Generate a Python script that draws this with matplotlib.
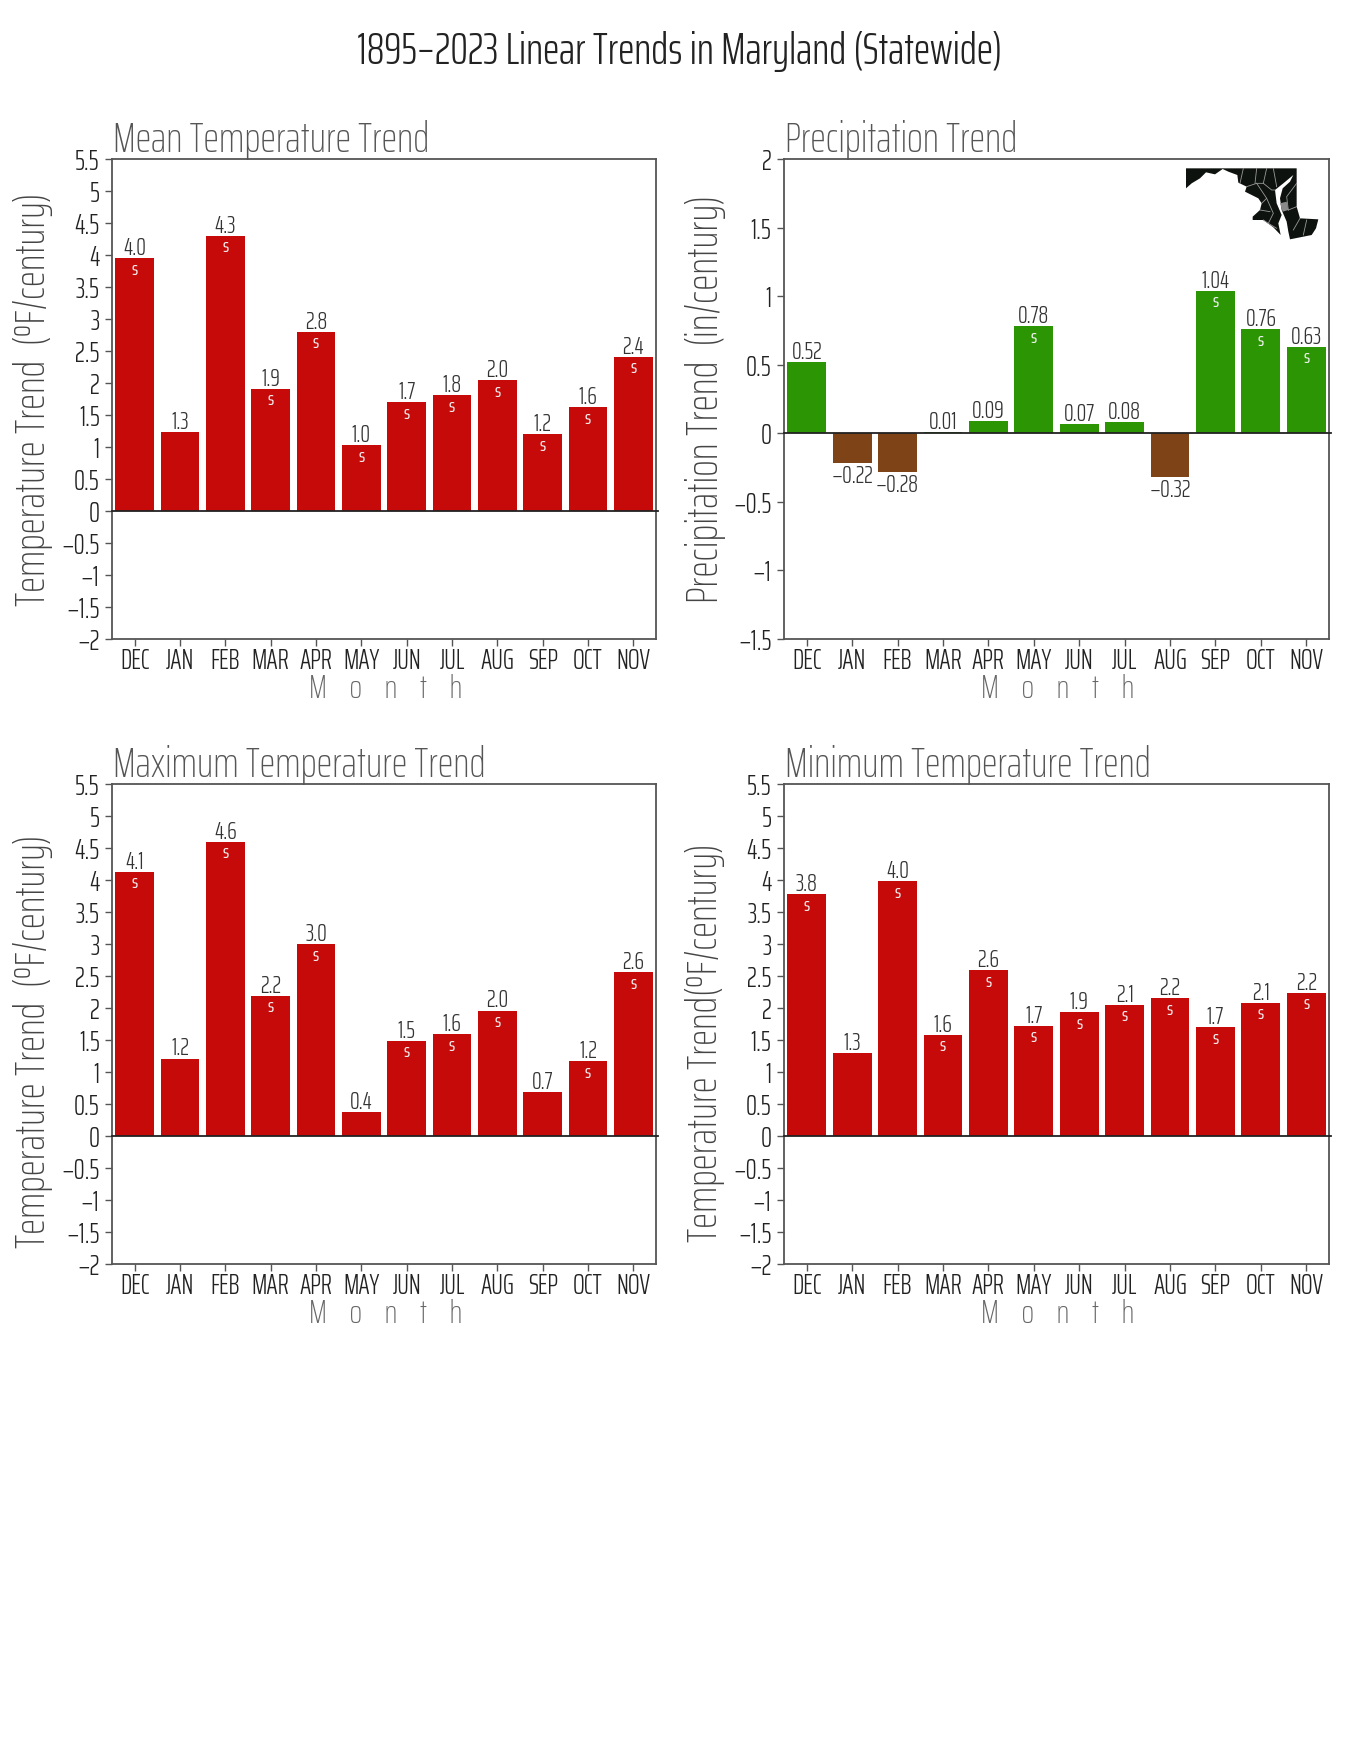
import matplotlib
matplotlib.use("Agg")
import matplotlib.pyplot as plt
from matplotlib.patches import Polygon

FONT = ['Saira ExtraCondensed', 'Liberation Sans', 'DejaVu Sans']
plt.rcParams['font.family'] = FONT
plt.rcParams['font.weight'] = 250

MONTHS = ['DEC','JAN','FEB','MAR','APR','MAY','JUN','JUL','AUG','SEP','OCT','NOV']

mean_vals = [3.95,1.24,4.30,1.91,2.80,1.03,1.70,1.81,2.04,1.20,1.62,2.41]
mean_labels = ['4.0','1.3','4.3','1.9','2.8','1.0','1.7','1.8','2.0','1.2','1.6','2.4']
mean_sig = [1,0,1,1,1,1,1,1,1,1,1,1]

prcp_vals = [0.52,-0.22,-0.28,0.01,0.09,0.78,0.07,0.08,-0.32,1.04,0.76,0.63]
prcp_labels = ['0.52','\u22120.22','\u22120.28','0.01','0.09','0.78','0.07','0.08','\u22120.32','1.04','0.76','0.63']
prcp_sig = [0,0,0,0,0,1,0,0,0,1,1,1]

max_vals = [4.13,1.21,4.60,2.19,3.00,0.37,1.49,1.59,1.96,0.68,1.17,2.56]
max_labels = ['4.1','1.2','4.6','2.2','3.0','0.4','1.5','1.6','2.0','0.7','1.2','2.6']
max_sig = [1,0,1,1,1,0,1,1,1,0,1,1]

min_vals = [3.78,1.30,3.98,1.58,2.59,1.72,1.93,2.05,2.15,1.70,2.08,2.24]
min_labels = ['3.8','1.3','4.0','1.6','2.6','1.7','1.9','2.1','2.2','1.7','2.1','2.2']
min_sig = [1,0,1,1,1,1,1,1,1,1,1,1]

TEMP_TICKS = [-2,-1.5,-1,-0.5,0,0.5,1,1.5,2,2.5,3,3.5,4,4.5,5,5.5]
PRCP_TICKS = [-1.5,-1,-0.5,0,0.5,1,1.5,2]

RED = '#c60909'
GREEN = '#2b9504'
BROWN = '#7e4418'
INK = '#222222'
W, H = 1360, 1760

fig = plt.figure(figsize=(W/100, H/100), dpi=100, facecolor='white')


def tick_text(v):
    return f'{v:g}'.replace('-', '\u2212')


def panel(box, title, ylabel, vals, labels, sig, ticks, ylim, precip=False, label_shift=0, label_size=31):
    l, t, r, b = box
    ax = fig.add_axes([l/W, 1-b/H, (r-l)/W, (b-t)/H])
    xs = [i + 0.5 for i in range(12)]
    cols = [GREEN if v >= 0 else BROWN for v in vals] if precip else [RED]*12
    ax.bar(xs, vals, width=0.855, color=cols, linewidth=0, zorder=2)
    ax.axhline(0, color='#222222', lw=1.3, zorder=3, clip_on=False, xmax=1.004)
    ax.set_xlim(0, 12)
    ax.set_ylim(*ylim)
    ax.set_xticks(xs)
    ax.set_xticklabels(MONTHS, fontsize=20, color=INK, weight=300)
    ax.set_yticks(ticks)
    ax.set_yticklabels([tick_text(v) for v in ticks], fontsize=20, color=INK, weight=300)
    ax.tick_params(axis='both', length=5, width=1, color='#555555')
    ax.tick_params(axis='x', pad=1)
    ax.tick_params(axis='y', pad=4)
    for s in ax.spines.values():
        s.set_linewidth(1.3)
        s.set_color('#555555')
    span = ylim[1]-ylim[0]
    for x, v, lab, sg in zip(xs, vals, labels, sig):
        if v >= 0:
            ax.text(x, v-span*0.004, lab, ha='center', va='bottom', fontsize=17.5, color='#333333', zorder=4, weight=300)
        else:
            ax.text(x, v-span*0.002, lab, ha='center', va='top', fontsize=17.5, color='#333333', zorder=4, weight=300)
        if sg:
            ax.text(x, v-span*0.024, 's', ha='center', va='center', fontsize=14, weight=400, color='#f4f4f4', zorder=4)
    ax.text(0.002, 0.998, title, transform=ax.transAxes, ha='left', va='bottom', fontsize=30.2, color='#555555')
    fig.text((l-79)/W, 1-((t+b)/2+label_shift)/H, ylabel, rotation=90, ha='center', va='center', fontsize=label_size, color='#444444')
    ax.text(0.503, -0.104, 'M    o    n    t    h', transform=ax.transAxes, ha='center', va='center', fontsize=24, color='#666666')
    return ax


BOXES = [(112, 159, 656, 639), (784, 159, 1329, 639), (112, 784, 656, 1264), (784, 784, 1329, 1264)]
panel(BOXES[0], 'Mean Temperature Trend', 'Temperature Trend  (\u00baF/century)', mean_vals, mean_labels, mean_sig, TEMP_TICKS, (-2, 5.5))
panel(BOXES[1], 'Precipitation Trend', 'Precipitation Trend  (in/century)', prcp_vals, prcp_labels, prcp_sig, PRCP_TICKS, (-1.5, 2), True, label_size=31.5)
panel(BOXES[2], 'Maximum Temperature Trend', 'Temperature Trend  (\u00baF/century)', max_vals, max_labels, max_sig, TEMP_TICKS, (-2, 5.5), label_shift=17)
panel(BOXES[3], 'Minimum Temperature Trend', 'Temperature Trend(\u00baF/century)', min_vals, min_labels, min_sig, TEMP_TICKS, (-2, 5.5), label_shift=19)

fig.text(680/W, 1-52/H, '1895\u20132023 Linear Trends in Maryland (Statewide)', ha='center', va='center', fontsize=31.8, color='#222222', weight=300)

# Maryland inset (decoration), outline traced in a 3x crop anchored at pixel (1100,140)
MD_OUTLINE = [(258,85),(258,145),(275,130),(300,115),(318,97),(345,103),(368,87),(385,95),(412,105),(415,128),
              (440,140),(435,155),(475,175),(485,190),(480,210),(458,230),(458,240),(490,240),(520,262),(542,285),
              (535,250),(545,225),(530,190),(525,150),(550,130),(580,105),(570,125),(548,145),(540,175),(545,210),
              (560,245),(565,275),(570,298),(600,292),(635,285),(648,265),(655,238),(600,235),(590,200),(590,85)]
MD_LINES = [[(430,85),(420,130)],[(470,85),(465,130)],[(500,85),(490,130),(470,130)],[(520,85),(530,140)],
            [(470,130),(500,175),(485,190)],[(500,175),(520,220),(505,250)],[(590,130),(560,170),(565,210)],
            [(565,210),(590,200)],[(600,235),(580,270)],[(620,240),(610,285)],[(440,140),(470,130)],
            [(490,130),(515,150),(525,150)],[(480,210),(510,215)],[(490,240),(505,250),(530,265)]]
MD_LAKE = [(540,190),(560,185),(565,210),(548,215)]


def px(p):
    return ((1100+p[0]/3)/W, 1-(140+p[1]/3)/H)


fig.add_artist(Polygon([px(p) for p in MD_OUTLINE], closed=True, transform=fig.transFigure,
                       facecolor='#0d120e', edgecolor='none', zorder=5))
fig.add_artist(Polygon([px(p) for p in MD_LAKE], closed=True, transform=fig.transFigure,
                       facecolor='#8a8a8a', edgecolor='none', zorder=6))
for seg in MD_LINES:
    pts = [px(p) for p in seg]
    fig.add_artist(plt.Line2D([a for a, _ in pts], [b for _, b in pts], transform=fig.transFigure,
                              color='#9a9a9a', lw=0.6, zorder=6))

fig.savefig('out.png', dpi=100, facecolor='white')
